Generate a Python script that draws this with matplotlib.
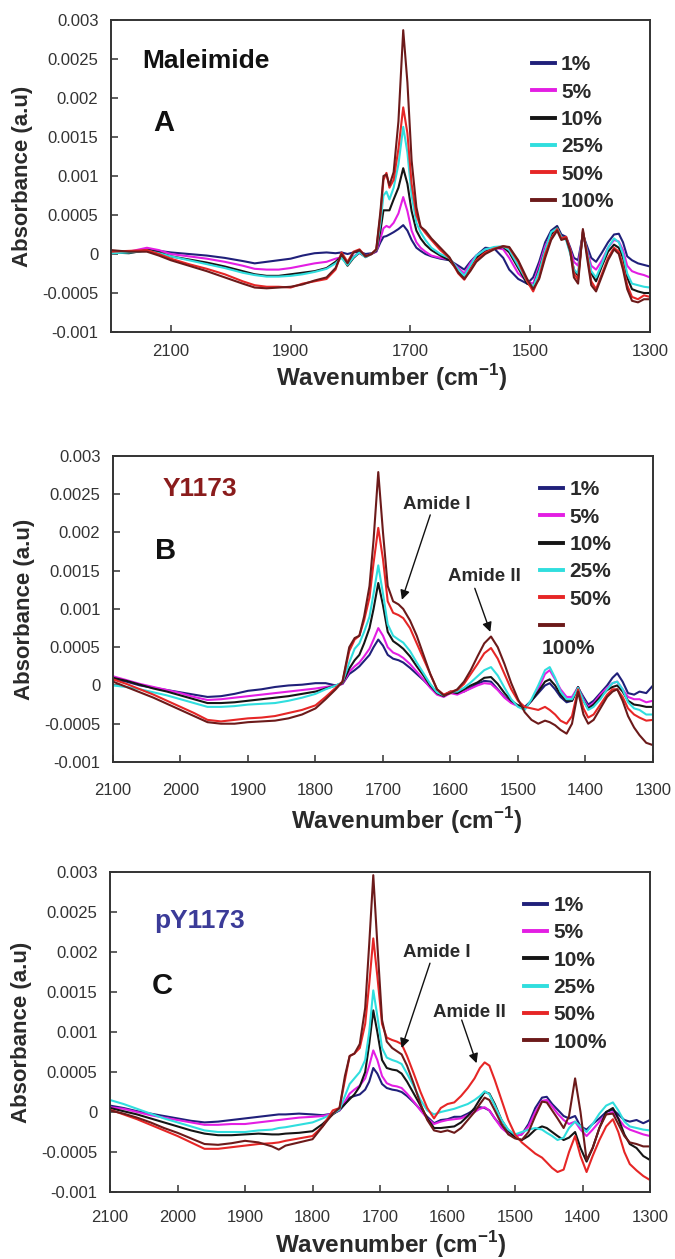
import matplotlib
matplotlib.use("Agg")
import matplotlib.pyplot as plt
import numpy as np

plt.rcParams['font.family'] = ['Liberation Sans', 'DejaVu Sans']
plt.rcParams['mathtext.fontset'] = 'custom'
plt.rcParams['mathtext.rm'] = 'Liberation Sans'
plt.rcParams['mathtext.bf'] = 'Liberation Sans:bold'

SCALE = 1e-4  # values below are in units of 1e-4 absorbance

series_labels = ['1%', '5%', '10%', '25%', '50%', '100%']
series_colors = ['#20207a', '#e31ee3', '#151515', '#30dede', '#e62626', '#6c1a1a']

ytick_vals = [-0.001, -0.0005, 0, 0.0005, 0.001, 0.0015, 0.002, 0.0025, 0.003]
ytick_text = ['-0.001', '-0.0005', '0', '0.0005', '0.001', '0.0015', '0.002', '0.0025', '0.003']
xticks_A = [2100, 1900, 1700, 1500, 1300]
xticks_BC = [2100, 2000, 1900, 1800, 1700, 1600, 1500, 1400, 1300]

# ---------------- Panel A : Maleimide ----------------
A_wn = [2200, 2170, 2140, 2120, 2100, 2070, 2040, 2010, 1980, 1960, 1940, 1920, 1900, 1880, 1860, 1840,
        1825, 1815, 1805, 1795, 1785, 1775, 1765, 1757, 1750, 1745, 1740, 1735, 1728, 1720, 1712, 1705,
        1698, 1690, 1683, 1675, 1665, 1650, 1635, 1620, 1610, 1600, 1590, 1575, 1560, 1545, 1535, 1520,
        1505, 1495, 1485, 1475, 1465, 1455, 1448, 1440, 1433, 1427, 1420, 1412, 1405, 1398, 1390, 1380,
        1370, 1360, 1352, 1345, 1338, 1330, 1320, 1310, 1300]
A_1 = [0.3, 0.2, 0.6, 0.4, 0.2, 0.0, -0.2, -0.5, -0.9, -1.2, -1.0, -0.8, -0.6, -0.2, 0.1, 0.2,
       0.1, 0.2, 0.0, 0.2, 0.3, 0.0, 0.1, 0.3, 1.5, 2.2, 2.3, 2.5, 2.8, 3.2, 3.7, 3.0,
       1.8, 0.8, 0.4, 0.0, -0.3, -0.6, -0.8, -1.5, -2.0, -1.0, -0.2, 0.8, 0.7, -0.5, -2.0, -3.2,
       -3.8, -3.0, -1.0, 1.5, 3.0, 3.6, 2.5, 2.2, 0.8, -0.5, -0.8, 2.5, 1.0, -0.5, -1.0, 0.2,
       1.5, 2.5, 2.6, 1.5, -0.3, -0.8, -1.2, -1.4, -1.6]
A_5 = [0.2, 0.3, 0.8, 0.5, 0.0, -0.3, -0.6, -1.0, -1.5, -1.9, -2.0, -2.0, -1.8, -1.5, -1.2, -1.0,
       -0.6, -0.4, -1.0, -0.3, 0.1, -0.3, 0.0, 0.3, 2.0, 3.3, 3.6, 3.4, 4.0, 5.2, 7.3, 5.5,
       3.0, 1.5, 0.8, 0.3, -0.2, -0.5, -0.7, -1.8, -2.5, -1.2, -0.2, 0.5, 0.8, 0.6, -0.5, -2.5,
       -3.5, -3.8, -1.5, 1.0, 2.5, 3.3, 2.2, 2.0, 0.5, -1.0, -1.5, 2.5, 0.5, -1.5, -2.0, -0.8,
       0.8, 1.8, 1.6, 0.5, -1.5, -2.2, -2.5, -2.7, -3.0]
A_10 = [0.2, 0.1, 0.5, 0.2, -0.3, -0.7, -1.1, -1.6, -2.2, -2.6, -2.8, -2.8, -2.6, -2.4, -2.2, -1.8,
        -1.0, -0.3, -1.5, -0.5, 0.2, -0.4, 0.0, 0.4, 3.0, 5.6, 5.6, 5.6, 7.0, 8.5, 11.0, 9.0,
        5.5, 3.0, 2.0, 1.2, 0.5, -0.2, -0.8, -2.2, -3.0, -1.8, -0.5, 0.3, 0.7, 0.9, 0.2, -1.8,
        -3.8, -4.2, -2.0, 0.5, 2.5, 3.4, 2.2, 2.0, 0.2, -2.0, -2.8, 2.8, 0.3, -2.5, -3.5, -1.5,
        0.3, 1.2, 0.8, -0.5, -3.0, -4.5, -4.8, -5.0, -5.0]
A_25 = [0.1, 0.2, 0.4, 0.1, -0.3, -0.8, -1.3, -1.8, -2.4, -2.7, -2.9, -2.9, -2.8, -2.6, -2.3, -1.9,
        -1.2, -0.5, -1.4, -0.4, 0.2, -0.4, 0.0, 0.5, 4.0, 7.5, 8.0, 7.0, 8.5, 11.5, 16.3, 13.0,
        7.5, 4.0, 2.8, 1.8, 0.8, 0.0, -0.5, -2.0, -2.8, -1.5, -0.2, 0.6, 0.9, 1.0, 0.5, -1.5,
        -3.5, -4.2, -2.2, 0.5, 2.8, 3.3, 2.2, 1.8, 0.0, -2.0, -2.5, 2.8, 0.3, -2.2, -3.0, -1.2,
        0.8, 2.0, 1.5, 0.0, -2.5, -3.8, -4.0, -4.2, -4.3]
A_50 = [0.3, 0.4, 0.5, 0.0, -0.6, -1.3, -1.9, -2.6, -3.5, -4.0, -4.2, -4.2, -4.3, -3.8, -3.5, -3.2,
        -2.0, 0.2, -1.0, 0.3, 0.6, -0.3, 0.0, 0.6, 5.0, 9.5, 10.4, 8.5, 9.5, 13.5, 18.8, 15.5,
        9.0, 5.0, 3.5, 2.7, 1.8, 0.5, -0.5, -2.5, -3.3, -2.0, -0.8, 0.2, 0.7, 1.0, 0.8, -1.0,
        -3.5, -4.8, -3.0, 0.0, 2.0, 3.2, 2.0, 2.2, 0.5, -2.5, -3.3, 3.0, 0.0, -3.5, -4.5, -2.5,
        -0.5, 0.8, 0.3, -1.5, -4.0, -5.5, -5.8, -5.3, -5.5]
A_100 = [0.5, 0.3, 0.3, -0.2, -0.8, -1.5, -2.2, -3.0, -3.8, -4.3, -4.4, -4.3, -4.2, -3.9, -3.4, -3.0,
         -1.8, 0.0, -1.2, 0.2, 0.5, -0.3, 0.0, 0.6, 5.5, 10.0, 10.2, 8.8, 10.5, 17.0, 28.7, 22.0,
         12.0, 6.0, 3.5, 3.0, 2.0, 0.8, -0.4, -2.4, -3.2, -2.2, -1.0, 0.0, 0.6, 1.0, 0.9, -0.8,
         -3.2, -4.5, -3.2, -0.5, 1.8, 3.0, 1.8, 2.0, 0.3, -3.0, -3.8, 3.2, -0.5, -4.0, -4.8, -2.8,
         -0.8, 0.6, 0.0, -2.0, -4.5, -6.0, -6.2, -5.8, -5.8]

# ---------------- Panel B : Y1173 ----------------
B_wn = [2100, 2080, 2060, 2040, 2020, 2000, 1980, 1960, 1940, 1920, 1900, 1880, 1860, 1840, 1820, 1800,
        1785, 1770, 1760, 1750, 1742, 1735, 1728, 1720, 1714, 1707, 1700, 1693, 1685, 1677, 1670, 1660,
        1650, 1640, 1630, 1620, 1610, 1600, 1590, 1580, 1570, 1560, 1550, 1540, 1530, 1520, 1510, 1500,
        1490, 1480, 1470, 1460, 1453, 1445, 1437, 1428, 1420, 1411, 1403, 1396, 1388, 1378, 1368, 1360,
        1353, 1345, 1337, 1328, 1320, 1310, 1300]
B_1 = [0.8, 0.5, 0.0, -0.3, -0.6, -0.9, -1.2, -1.5, -1.4, -1.1, -0.7, -0.5, -0.2, 0.0, 0.1, 0.3,
       0.3, 0.0, 0.2, 1.5, 2.0, 2.5, 3.2, 4.0, 5.0, 6.0, 5.2, 4.0, 3.5, 3.3, 3.0, 2.3,
       1.5, 0.7, -0.2, -1.0, -1.3, -0.8, -1.0, -0.8, -0.3, 0.2, 0.6, 0.5, -0.5, -1.5, -2.2, -2.6,
       -2.8, -2.0, -1.0, 0.0, 0.3, -0.5, -1.5, -2.2, -2.0, -0.3, -1.5, -2.5, -2.0, -1.0, 0.0, 1.0,
       1.6, 0.5, -1.0, -1.2, -0.8, -1.0, 0.0]
B_5 = [1.2, 0.7, 0.2, -0.2, -0.6, -1.0, -1.5, -1.9, -1.8, -1.6, -1.4, -1.2, -1.0, -0.8, -0.6, -0.4,
       -0.2, 0.0, 0.2, 1.8, 2.5, 3.0, 3.8, 4.8, 6.0, 7.5, 6.5, 5.0, 4.3, 4.0, 3.6, 2.8,
       1.8, 0.8, -0.3, -1.2, -1.5, -1.0, -1.2, -0.8, -0.4, 0.0, 0.3, 0.2, -0.6, -1.6, -2.3, -2.7,
       -3.0, -2.0, -0.5, 1.5, 2.0, 0.8, -0.5, -1.5, -1.5, -0.2, -1.8, -2.8, -2.3, -1.2, -0.3, 0.3,
       0.5, -0.5, -1.5, -1.8, -1.8, -2.2, -2.0]
B_10 = [1.0, 0.6, 0.1, -0.4, -0.8, -1.3, -1.8, -2.3, -2.3, -2.2, -2.0, -1.8, -1.6, -1.4, -1.1, -0.8,
        -0.4, 0.0, 0.3, 2.2, 3.3, 4.0, 5.5, 7.5, 10.0, 13.4, 10.5, 7.0, 5.8, 5.3, 4.8, 3.8,
        2.5, 1.3, 0.0, -1.0, -1.4, -0.8, -1.0, -0.5, 0.0, 0.4, 1.0, 1.1, 0.2, -1.0, -2.0, -2.6,
        -3.0, -2.0, -0.8, 0.5, 0.8, 0.0, -1.2, -2.0, -2.0, -0.2, -2.0, -3.0, -2.5, -1.5, -0.6, -0.2,
        0.0, -0.8, -2.0, -2.5, -2.6, -2.8, -2.8]
B_25 = [0.0, -0.2, -0.5, -0.9, -1.3, -1.8, -2.3, -2.8, -2.8, -2.7, -2.5, -2.4, -2.3, -2.0, -1.6, -1.1,
        -0.5, 0.0, 0.4, 3.0, 4.8, 5.5, 7.0, 9.0, 12.0, 15.7, 12.0, 8.0, 6.5, 6.0, 5.6, 4.5,
        3.0, 1.6, 0.2, -0.9, -1.3, -0.8, -0.8, -0.3, 0.4, 1.2, 2.0, 2.4, 1.3, -0.3, -1.8, -2.8,
        -3.2, -1.8, 0.0, 2.0, 2.4, 1.0, -0.8, -1.8, -1.8, -0.3, -2.0, -3.2, -2.8, -1.8, -0.5, 0.3,
        0.5, -0.5, -2.2, -3.0, -3.2, -3.8, -3.8]
B_50 = [0.8, 0.2, -0.5, -1.2, -2.0, -2.8, -3.6, -4.5, -4.7, -4.5, -4.3, -4.2, -4.0, -3.6, -3.2, -2.6,
        -1.5, -0.3, 0.5, 4.5, 6.0, 6.5, 8.5, 11.5, 16.0, 20.6, 16.5, 11.0, 9.5, 9.2, 8.8, 7.5,
        5.5, 3.5, 1.5, -0.5, -1.2, -0.8, -0.6, 0.2, 1.5, 2.8, 4.2, 4.9, 3.5, 1.5, -0.5, -2.0,
        -2.8, -3.0, -3.2, -2.8, -3.2, -3.8, -4.6, -5.0, -4.0, -0.5, -3.0, -4.2, -3.8, -2.5, -1.2, -0.5,
        -0.5, -1.5, -3.0, -3.8, -4.2, -4.6, -4.5]
B_100 = [0.5, -0.2, -0.9, -1.6, -2.4, -3.2, -4.0, -4.8, -5.0, -5.0, -4.8, -4.7, -4.6, -4.3, -3.8, -3.0,
         -1.8, -0.5, 0.5, 5.0, 6.2, 6.5, 9.0, 13.0, 19.0, 27.9, 20.0, 13.0, 11.0, 10.6, 10.0, 8.5,
         6.5, 4.0, 1.5, -0.5, -1.3, -1.0, -0.5, 0.5, 2.0, 3.8, 5.5, 6.4, 5.0, 2.8, 0.3, -1.8,
         -3.5, -4.5, -5.0, -4.6, -4.8, -5.2, -5.8, -6.3, -5.0, -0.8, -3.8, -5.0, -4.5, -3.0, -1.5, -0.8,
         -0.5, -2.0, -4.0, -5.5, -6.5, -7.5, -7.8]

# ---------------- Panel C : pY1173 ----------------
C_wn = [2100, 2080, 2060, 2040, 2020, 2000, 1980, 1960, 1940, 1920, 1900, 1880, 1860, 1850, 1840, 1820,
        1800, 1785, 1770, 1760, 1752, 1745, 1738, 1730, 1722, 1716, 1710, 1704, 1697, 1690, 1682, 1675,
        1668, 1660, 1650, 1640, 1630, 1620, 1610, 1600, 1590, 1580, 1570, 1560, 1552, 1545, 1538, 1530,
        1520, 1510, 1500, 1490, 1480, 1470, 1460, 1453, 1445, 1437, 1428, 1420, 1411, 1403, 1394, 1385,
        1375, 1365, 1355, 1347, 1338, 1330, 1320, 1310, 1300]
C_1 = [0.8, 0.5, 0.1, -0.2, -0.5, -0.8, -1.1, -1.3, -1.2, -1.0, -0.8, -0.6, -0.4, -0.3, -0.3, -0.2,
       -0.3, -0.4, -0.2, 0.2, 1.0, 1.8, 2.0, 2.2, 2.8, 3.8, 5.5, 4.8, 3.5, 3.0, 2.8, 2.7,
       2.5, 2.0, 1.2, 0.3, -0.6, -1.4, -1.0, -0.9, -0.6, -0.6, -0.2, 0.3, 0.6, 0.5, 0.2, -0.8,
       -1.8, -2.5, -3.0, -2.8, -1.5, 0.5, 1.8, 1.9, 1.0, 0.3, -0.5, -0.8, -0.5, -1.8, -2.2, -1.5,
       -0.8, 0.0, 0.3, -0.3, -1.0, -1.2, -1.0, -1.4, -1.0]
C_5 = [0.6, 0.4, 0.0, -0.4, -0.7, -1.0, -1.3, -1.6, -1.6, -1.5, -1.5, -1.3, -1.1, -1.0, -0.9, -0.7,
       -0.6, -0.5, -0.2, 0.2, 1.3, 2.3, 2.8, 3.3, 4.2, 5.8, 7.7, 6.5, 4.5, 3.6, 3.3, 3.2,
       3.0, 2.3, 1.3, 0.2, -0.8, -1.5, -1.2, -1.0, -0.9, -0.8, -0.4, 0.0, 0.4, 0.6, 0.2, -0.8,
       -2.0, -2.7, -3.0, -2.8, -1.8, 0.0, 1.4, 1.5, 0.7, -0.2, -1.0, -1.5, -1.2, -2.2, -3.0, -2.2,
       -1.2, -0.3, 0.0, -0.8, -1.8, -2.2, -2.5, -2.8, -3.0]
C_10 = [0.5, 0.1, -0.3, -0.8, -1.3, -1.8, -2.3, -2.7, -2.9, -2.9, -2.8, -2.7, -2.8, -2.8, -2.7, -2.6,
        -2.4, -1.5, -0.3, 0.3, 1.0, 1.6, 2.2, 3.2, 5.0, 8.5, 12.7, 10.0, 6.5, 5.5, 5.3, 5.2,
        4.8, 3.8, 2.3, 0.8, -0.8, -2.0, -2.0, -1.9, -1.8, -1.3, -0.5, 0.5, 1.6, 2.5, 2.3, 1.0,
        -1.0, -2.3, -3.2, -3.5, -3.0, -2.2, -1.8, -2.0, -2.5, -3.0, -3.5, -3.2, -2.5, -4.5, -6.2, -4.5,
        -2.0, 0.0, 0.5, -0.8, -2.8, -4.0, -4.5, -5.5, -6.0]
C_25 = [1.5, 1.0, 0.4, -0.2, -0.8, -1.3, -1.8, -2.3, -2.5, -2.5, -2.5, -2.3, -2.2, -2.0, -1.9, -1.6,
        -1.3, -0.8, -0.2, 0.3, 2.0, 3.5, 4.2, 5.0, 6.5, 10.0, 15.2, 12.0, 8.0, 6.8, 6.5, 6.3,
        6.0, 4.8, 3.2, 1.5, 0.2, -0.3, 0.0, 0.2, 0.4, 0.7, 1.0, 1.5, 2.0, 2.6, 2.2, 0.8,
        -1.0, -2.2, -2.8, -2.5, -2.2, -2.0, -2.2, -2.6, -3.0, -3.5, -3.2, -2.0, -1.2, -1.8, -2.5, -1.5,
        -0.2, 0.8, 1.2, 0.2, -1.2, -1.8, -2.0, -2.2, -2.3]
C_50 = [0.3, -0.3, -0.9, -1.6, -2.3, -3.0, -3.8, -4.6, -4.6, -4.4, -4.2, -4.0, -3.9, -3.8, -3.6, -3.3,
        -3.0, -1.8, 0.2, 0.5, 4.0, 7.0, 7.3, 8.0, 11.0, 16.0, 21.7, 17.0, 11.0, 9.3, 9.0, 8.8,
        8.5, 7.0, 4.8, 2.5, 0.5, -0.8, 0.5, 1.0, 1.2, 2.0, 3.0, 4.2, 5.5, 6.2, 5.8, 4.0,
        1.5, -1.0, -2.8, -3.8, -4.5, -5.2, -5.7, -6.3, -7.0, -7.5, -7.2, -5.0, -3.0, -5.5, -7.5, -5.5,
        -3.5, -1.8, -0.9, -2.5, -5.0, -6.5, -7.3, -8.0, -8.5]
C_100 = [0.2, -0.2, -0.7, -1.3, -2.0, -2.6, -3.3, -4.0, -4.1, -3.9, -3.6, -3.8, -4.3, -4.7, -4.2, -3.8,
         -3.4, -1.8, -0.2, 0.5, 4.5, 7.0, 7.3, 8.5, 13.0, 21.0, 29.6, 21.0, 11.5, 8.8, 8.0, 7.6,
         7.2, 5.8, 3.5, 1.0, -1.0, -2.3, -2.5, -2.3, -2.6, -2.0, -1.0, 0.0, 1.0, 1.8, 1.5, 0.2,
         -1.5, -2.8, -3.3, -3.5, -2.5, -0.5, 1.3, 1.2, 0.2, -0.8, -2.0, -0.5, 4.2, 0.0, -6.0, -4.5,
         -2.0, -0.3, -0.2, -1.5, -3.0, -3.8, -4.0, -4.3, -4.3]

panels = [
    dict(wn=A_wn, ys=[A_1, A_5, A_10, A_25, A_50, A_100], xlim=(2200, 1300), xticks=xticks_A,
         rect=[0.1644, 0.7363, 0.7985, 0.2478], title='Maleimide', title_color='#111111',
         title_pos=(0.058, 0.869), letter='A', letter_y=0.67, leg_anchor=(0.781, 0.887),
         xpad=9, xlabel_pad=2, xlabel_x=0.521),
    dict(wn=B_wn, ys=[B_1, B_5, B_10, B_25, B_50, B_100], xlim=(2100, 1300), xticks=xticks_BC,
         rect=[0.1674, 0.3948, 0.8000, 0.2430], title='Y1173', title_color='#8a1c1c',
         title_pos=(0.092, 0.892), letter='B', letter_y=0.69, leg_anchor=(0.791, 0.921),
         xpad=15, xlabel_pad=5.5, xlabel_x=0.544),
    dict(wn=C_wn, ys=[C_1, C_5, C_10, C_25, C_50, C_100], xlim=(2100, 1300), xticks=xticks_BC,
         rect=[0.1630, 0.0532, 0.8000, 0.2542], title='pY1173', title_color='#3b3b98',
         title_pos=(0.081, 0.847), letter='C', letter_y=0.644, leg_anchor=(0.767, 0.925),
         xpad=13, xlabel_pad=3, xlabel_x=0.519),
]

# annotations: (label, text position, arrow tail, arrow head) in data coordinates (1e-4 units)
annots = {
    1: [('Amide I', (1620, 23.6), (1630, 22.3), (1672, 11.2)),
        ('Amide II', (1549, 14.2), (1564, 12.7), (1541, 7.0))],
    2: [('Amide I', (1616, 19.9), (1626, 18.6), (1668, 8.0)),
        ('Amide II', (1567, 12.4), (1579, 11.5), (1557, 6.1))],
}

fig = plt.figure(figsize=(6.75, 12.59), dpi=100)
txt_col = '#2a2a2a'

for i, p in enumerate(panels):
    ax = fig.add_axes(p['rect'])
    wn = np.array(p['wn'])
    handles = []
    for y, c, lab in zip(p['ys'], series_colors, series_labels):
        assert len(y) == len(wn), (i, lab, len(y), len(wn))
        h, = ax.plot(wn, np.array(y) * SCALE, color=c, lw=1.5, label=lab)
        handles.append(h)
    ax.set_xlim(*p['xlim'])
    ax.set_ylim(-0.001, 0.003)
    ax.set_yticks(ytick_vals)
    ax.set_yticklabels(ytick_text)
    ax.set_xticks(p['xticks'])
    ax.set_xticklabels([str(v) for v in p['xticks']])
    ax.tick_params(axis='both', direction='in', length=5, width=1.1, color='#333333',
                   labelsize=12, labelcolor='#333333')
    ax.tick_params(axis='y', pad=9)
    ax.tick_params(axis='x', pad=p['xpad'])
    for s in ax.spines.values():
        s.set_color('#333333')
        s.set_linewidth(1.4)
    ax.set_xlabel(r'Wavenumber (cm$^{\mathbf{-1}}$)', fontsize=17.5, fontweight='bold',
                  color=txt_col, labelpad=p['xlabel_pad'])
    ax.xaxis.label.set_x(p['xlabel_x'])
    ax.set_ylabel('Absorbance (a.u)', fontsize=16, fontweight='bold', color=txt_col)
    ax.yaxis.set_label_coords(-0.145, 0.5)

    ax.text(p['title_pos'][0], p['title_pos'][1], p['title'], transform=ax.transAxes, fontsize=19,
            fontweight='bold', color=p['title_color'], va='center', ha='left')
    ax.text(0.078, p['letter_y'], p['letter'], transform=ax.transAxes, fontsize=21,
            fontweight='bold', color='#111111', va='center', ha='left')

    if i == 1:
        leg_l = series_labels[:5] + ['']
    else:
        leg_l = series_labels
    leg = ax.legend(handles, leg_l, loc='upper left', bbox_to_anchor=p['leg_anchor'], frameon=False,
                    prop=dict(weight='bold', size=15), handlelength=1.1, handletextpad=0.3,
                    labelspacing=0.4, borderpad=0, borderaxespad=0)
    for t in leg.get_texts():
        t.set_color(txt_col)
    for lh in leg.get_lines():
        lh.set_linewidth(2.8)
    if i == 1:
        ax.text(0.794, 0.372, '100%', transform=ax.transAxes, fontsize=15, fontweight='bold',
                color=txt_col, va='center', ha='left')

    for (label, tpos, tail, head) in annots.get(i, []):
        ax.text(tpos[0], tpos[1] * SCALE, label, fontsize=13.5, fontweight='bold', color=txt_col,
                ha='center', va='center')
        ax.annotate('', xy=(head[0], head[1] * SCALE), xytext=(tail[0], tail[1] * SCALE),
                    arrowprops=dict(arrowstyle='-|>', color='#111111', lw=1.0, mutation_scale=14,
                                    shrinkA=0, shrinkB=0))

fig.savefig('out.png', dpi=100)
